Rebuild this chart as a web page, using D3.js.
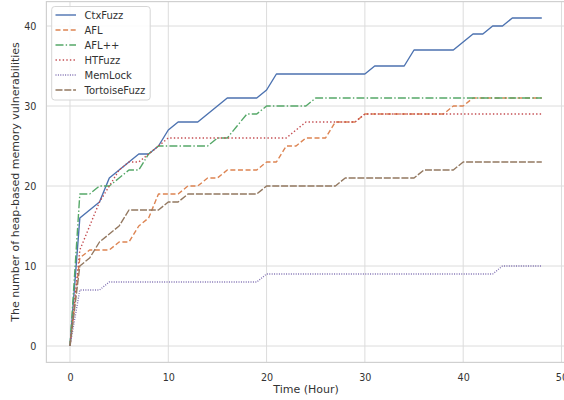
<!DOCTYPE html>
<html>
<head>
<meta charset="utf-8">
<script src="https://cdn.jsdelivr.net/npm/d3@7"></script>
<style>
  body { margin: 0; background: #fff; }
  svg { font-family: "DejaVu Sans", sans-serif; }
</style>
</head>
<body>
<div id="chart"></div>
<script>
// Hours of fuzzing
var hours = [0,1,2,3,4,5,6,7,8,9,10,11,12,13,14,15,16,17,18,19,20,21,22,23,24,
             25,26,27,28,29,30,31,32,33,34,35,36,37,38,39,40,41,42,43,44,45,46,47,48];

// Vulnerabilities found per fuzzer
var ctxfuzz = [0,16,17,18,21,22,23,24,24,25,27,28,28,28,29,30,31,31,31,31,32,34,34,34,34,
               34,34,34,34,34,34,35,35,35,35,37,37,37,37,37,38,39,39,40,40,41,41,41,41];
var afl = [0,11,12,12,12,13,13,15,16,19,19,19,20,20,21,21,22,22,22,22,23,23,25,25,26,
           26,26,28,28,28,29,29,29,29,29,29,29,29,29,30,30,31,31,31,31,31,31,31,31];
var aflpp = [0,19,19,20,20,21,22,22,24,25,25,25,25,25,25,26,26,27.5,29,29,30,30,30,30,30,
             31,31,31,31,31,31,31,31,31,31,31,31,31,31,31,31,31,31,31,31,31,31,31,31];
var htfuzz = [0,12,15,18,20,22,23,23,24,25,26,26,26,26,26,26,26,26,26,26,26,26,26,27,28,
              28,28,28,28,28,29,29,29,29,29,29,29,29,29,29,29,29,29,29,29,29,29,29,29];
var memlock = [0,7,7,7,8,8,8,8,8,8,8,8,8,8,8,8,8,8,8,8,9,9,9,9,9,
               9,9,9,9,9,9,9,9,9,9,9,9,9,9,9,9,9,9,9,10,10,10,10,10];
var tortoise = [0,10,11,13,14,15,17,17,17,17,18,18,19,19,19,19,19,19,19,19,20,20,20,20,20,
                20,20,20,21,21,21,21,21,21,21,21,22,22,22,22,23,23,23,23,23,23,23,23,23];

var xTicks = [0, 10, 20, 30, 40, 50];
var yTicks = [0, 10, 20, 30, 40];

var series = [
  { name: 'CtxFuzz', values: ctxfuzz, color: '#4c72b0', dash: null },
  { name: 'AFL', values: afl, color: '#dd8452', dash: '5,2.6' },
  { name: 'AFL++', values: aflpp, color: '#55a868', dash: '8,2.2,1.4,2.2' },
  { name: 'HTFuzz', values: htfuzz, color: '#c44e52', dash: '1.4,2.2' },
  { name: 'MemLock', values: memlock, color: '#8172b3', dash: '1,1.4' },
  { name: 'TortoiseFuzz', values: tortoise, color: '#937860', dash: '7,1.8' }
];

var width = 564, height = 400;

var svg = d3.select('#chart').append('svg')
            .attr('width', width)
            .attr('height', height);

// Scales, with matplotlib-like 5% margins
var x = d3.scaleLinear().domain([-2.4, 50.4]).range([46.4, 565.4]);
var y = d3.scaleLinear().domain([-2.05, 43.05]).range([362.4, 1.6]);

var grid = svg.append('g');

// Grid lines
grid.selectAll('.xg')
    .data(xTicks)
    .enter().append('line')
    .attr('x1', function(d) { return x(d); })
    .attr('x2', function(d) { return x(d); })
    .attr('y1', y.range()[0])
    .attr('y2', y.range()[1])
    .attr('stroke', '#dcdcdc')
    .attr('stroke-width', 1);

grid.selectAll('.yg')
    .data(yTicks)
    .enter().append('line')
    .attr('x1', x.range()[0])
    .attr('x2', x.range()[1])
    .attr('y1', function(d) { return y(d); })
    .attr('y2', function(d) { return y(d); })
    .attr('stroke', '#dcdcdc')
    .attr('stroke-width', 1);

// Frame
svg.append('rect')
   .attr('x', x.range()[0])
   .attr('y', y.range()[1])
   .attr('width', x.range()[1] - x.range()[0])
   .attr('height', y.range()[0] - y.range()[1])
   .attr('fill', 'none')
   .attr('stroke', '#d0d0d0')
   .attr('stroke-width', 1.2);

// Axes (labels only, no tick marks)
var x_axis = d3.axisBottom(x).tickValues(xTicks).tickSize(0).tickPadding(12);
var y_axis = d3.axisLeft(y).tickValues(yTicks).tickSize(0).tickPadding(10);

var gx = svg.append('g')
   .attr('transform', 'translate(0,' + y.range()[0] + ')')
   .call(x_axis);
var gy = svg.append('g')
   .attr('transform', 'translate(' + x.range()[0] + ',0)')
   .call(y_axis);

[gx, gy].forEach(function(g) {
  g.select('.domain').remove();
  g.selectAll('text')
   .attr('fill', '#333')
   .style('font-size', '9.6px')
   .style('font-family', '"DejaVu Sans", sans-serif');
});

// Axis titles
svg.append('text')
   .attr('x', 306)
   .attr('y', 393)
   .attr('text-anchor', 'middle')
   .attr('fill', '#333')
   .style('font-size', '11px')
   .text('Time (Hour)');

svg.append('text')
   .attr('transform', 'translate(19,' + 182 + ') rotate(-90)')
   .attr('text-anchor', 'middle')
   .attr('fill', '#333')
   .style('font-size', '11px')
   .text('The number of heap-based memory vulnerabilities');

// Lines
var line = d3.line()
             .curve(d3.curveLinear)
             .x(function(d, i) { return x(hours[i]); })
             .y(function(d) { return y(d); });

series.forEach(function(s) {
  svg.append('path')
     .attr('d', line(s.values))
     .attr('fill', 'none')
     .attr('stroke', s.color)
     .attr('stroke-width', 1.4)
     .attr('stroke-dasharray', s.dash)
     .attr('stroke-linejoin', 'round');
});

// Legend
var legend = svg.append('g');
legend.append('rect')
      .attr('x', 51.7)
      .attr('y', 6.5)
      .attr('width', 98.5)
      .attr('height', 93.5)
      .attr('rx', 3)
      .attr('fill', 'rgba(255,255,255,0.85)')
      .attr('stroke', '#d6d6d6')
      .attr('stroke-width', 1);

series.forEach(function(s, i) {
  var ly = 15 + i * 15;
  legend.append('line')
        .attr('x1', 55.5).attr('x2', 76)
        .attr('y1', ly).attr('y2', ly)
        .attr('stroke', s.color)
        .attr('stroke-width', 1.4)
        .attr('stroke-dasharray', s.dash);
  legend.append('text')
        .attr('x', 84.5)
        .attr('y', ly)
        .attr('dy', '0.35em')
        .attr('fill', '#333')
        .style('font-size', '10px')
        .text(s.name);
});
</script>
</body>
</html>
